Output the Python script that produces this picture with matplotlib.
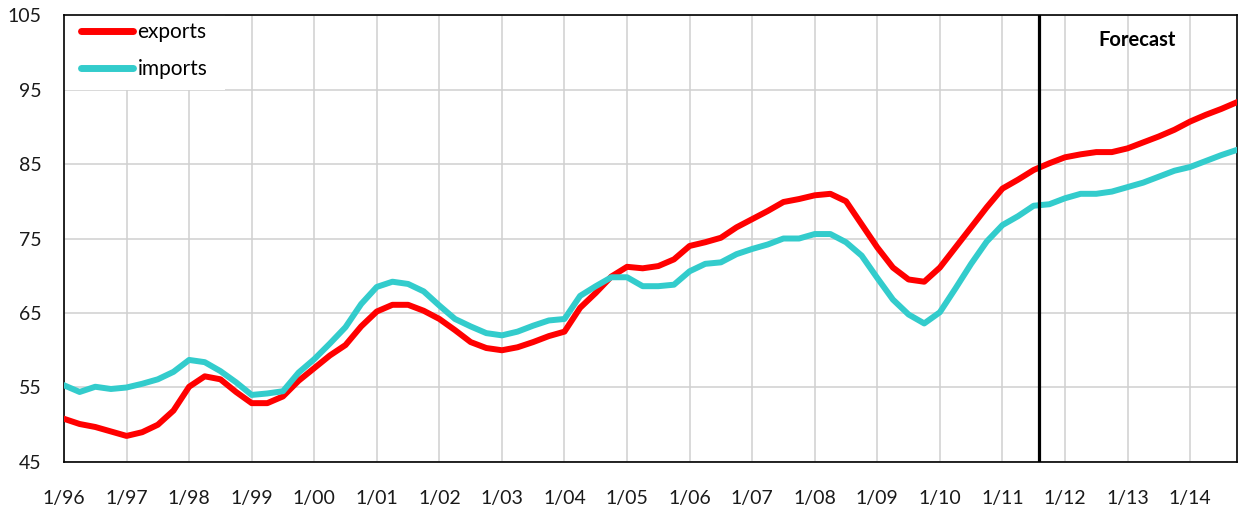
import matplotlib
matplotlib.use('Agg')
import matplotlib.pyplot as plt
from matplotlib.patches import Rectangle
import numpy as np

# Quarterly index values, 1996Q1 .. 2014Q4
exports = [50.8, 50.1, 49.7, 49.1, 48.5, 49.0, 50.0, 51.9,
           55.1, 56.5, 56.1, 54.4, 52.9, 52.9, 53.8, 55.9,
           57.6, 59.3, 60.7, 63.2, 65.2, 66.1, 66.1, 65.3,
           64.2, 62.7, 61.1, 60.3, 60.0, 60.4, 61.1, 61.9,
           62.5, 65.7, 67.7, 69.9, 71.2, 71.0, 71.3, 72.2,
           74.0, 74.5, 75.1, 76.5, 77.6, 78.7, 79.9, 80.3,
           80.8, 81.0, 80.0, 76.9, 73.8, 71.1, 69.5, 69.2,
           71.1, 73.8, 76.5, 79.2, 81.7, 82.9, 84.2, 85.1,
           85.9, 86.3, 86.6, 86.6, 87.1, 87.9, 88.7, 89.6,
           90.7, 91.6, 92.4, 93.3]
imports = [55.3, 54.4, 55.1, 54.8, 55.0, 55.5, 56.1, 57.1,
           58.7, 58.4, 57.2, 55.7, 54.0, 54.2, 54.5, 57.0,
           58.8, 60.9, 63.1, 66.2, 68.5, 69.2, 68.9, 67.9,
           66.0, 64.2, 63.2, 62.3, 62.0, 62.5, 63.3, 64.0,
           64.2, 67.3, 68.6, 69.8, 69.8, 68.6, 68.6, 68.8,
           70.6, 71.6, 71.8, 72.9, 73.6, 74.2, 75.0, 75.0,
           75.6, 75.6, 74.5, 72.7, 69.7, 66.8, 64.8, 63.6,
           65.1, 68.3, 71.6, 74.6, 76.8, 78.0, 79.4, 79.6,
           80.4, 81.0, 81.0, 81.3, 81.9, 82.5, 83.3, 84.1,
           84.6, 85.4, 86.2, 86.9]
year_labels = ['1/96', '1/97', '1/98', '1/99', '1/00', '1/01', '1/02',
               '1/03', '1/04', '1/05', '1/06', '1/07', '1/08', '1/09',
               '1/10', '1/11', '1/12', '1/13', '1/14']
y_ticks = [45, 55, 65, 75, 85, 95, 105]
forecast_start = 15.58  # years after 1/96

plt.rcParams['font.family'] = ['Lato', 'DejaVu Sans']

t = np.arange(len(exports)) / 4.0

fig = plt.figure(figsize=(12.4, 5.11), dpi=100)
ax = fig.add_axes([0.0516, 0.0959, 0.946, 0.8747])

ax.set_axisbelow(True)
ax.grid(True, color='#d0d0d0', linewidth=1.1)

# white box behind the legend (hides the grid there)
ax.add_patch(Rectangle((0, 0.832), 0.137, 0.168, transform=ax.transAxes,
                       facecolor='white', edgecolor='none', zorder=1.5))

ax.plot(t, exports, color='#ff0000', linewidth=4.3, label='exports',
        solid_joinstyle='round', zorder=3)
ax.plot(t, imports, color='#33cccc', linewidth=4.3, label='imports',
        solid_joinstyle='round', zorder=3)

ax.axvline(forecast_start, color='black', linewidth=2.3, zorder=4)
ax.text(17.16, 101.6, 'Forecast', fontsize=14.5, fontweight='bold',
        ha='center', va='center', color='black')

ax.set_xlim(0, 18.75)
ax.set_ylim(45, 105)
ax.set_xticks(range(len(year_labels)))
ax.set_xticklabels(year_labels)
ax.set_yticks(y_ticks)
ax.tick_params(axis='both', length=0, labelsize=14, colors='#1a1a1a')
ax.tick_params(axis='x', pad=20)
ax.tick_params(axis='y', pad=16)
for s in ax.spines.values():
    s.set_color('black')
    s.set_linewidth(1.2)

leg = ax.legend(loc='upper left', bbox_to_anchor=(0.004, 1.012), frameon=False,
                fontsize=15, handlelength=2.5, handletextpad=0.2,
                labelspacing=0.82, borderaxespad=0.2, borderpad=0.4)
for h in leg.get_lines():
    h.set_linewidth(5)
    h.set_solid_capstyle('round')

fig.savefig('out.png', dpi=100)
